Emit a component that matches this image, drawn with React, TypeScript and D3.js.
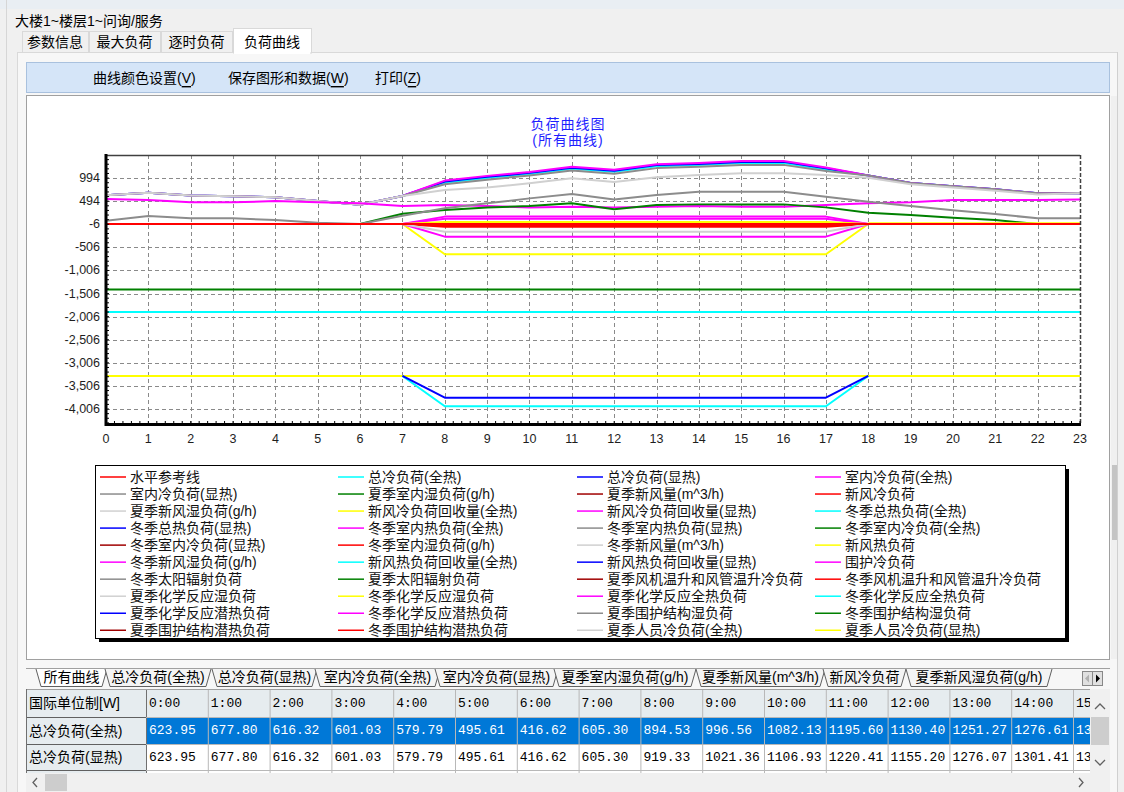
import React from 'react';
import * as d3 from 'd3';

const _ = null;

// hours of the day (x axis)
const hours = [0, 1, 2, 3, 4, 5, 6, 7, 8, 9, 10, 11, 12, 13, 14, 15, 16, 17, 18, 19, 20, 21, 22, 23];
const yTickValues = [994, 494, -6, -506, -1006, -1506, -2006, -2506, -3006, -3506, -4006];

const topTabs = ['参数信息', '最大负荷', '逐时负荷', '负荷曲线'];
const toolbarItems = [
  { label: '曲线颜色设置', key: 'V' },
  { label: '保存图形和数据', key: 'W' },
  { label: '打印', key: 'Z' },
];
const bottomTabs = ['所有曲线', '总冷负荷(全热)', '总冷负荷(显热)', '室内冷负荷(全热)', '室内冷负荷(显热)',
  '夏季室内湿负荷(g/h)', '夏季新风量(m^3/h)', '新风冷负荷', '夏季新风湿负荷(g/h)'];

const legendNames = [
  '水平参考线', '总冷负荷(全热)', '总冷负荷(显热)', '室内冷负荷(全热)',
  '室内冷负荷(显热)', '夏季室内湿负荷(g/h)', '夏季新风量(m^3/h)', '新风冷负荷',
  '夏季新风湿负荷(g/h)', '新风冷负荷回收量(全热)', '新风冷负荷回收量(显热)', '冬季总热负荷(全热)',
  '冬季总热负荷(显热)', '冬季室内热负荷(全热)', '冬季室内热负荷(显热)', '冬季室内冷负荷(全热)',
  '冬季室内冷负荷(显热)', '冬季室内湿负荷(g/h)', '冬季新风量(m^3/h)', '新风热负荷',
  '冬季新风湿负荷(g/h)', '新风热负荷回收量(全热)', '新风热负荷回收量(显热)', '围护冷负荷',
  '冬季太阳辐射负荷', '夏季太阳辐射负荷', '夏季风机温升和风管温升冷负荷', '冬季风机温升和风管温升冷负荷',
  '夏季化学反应湿负荷', '冬季化学反应湿负荷', '夏季化学反应全热负荷', '冬季化学反应全热负荷',
  '夏季化学反应潜热负荷', '冬季化学反应潜热负荷', '夏季围护结构湿负荷', '冬季围护结构湿负荷',
  '夏季围护结构潜热负荷', '冬季围护结构潜热负荷', '夏季人员冷负荷(全热)', '夏季人员冷负荷(显热)',
];

const RED = '#ff0000', CYAN = '#00ffff', BLUE = '#0000ff', MAG = '#ff00ff', GRAY = '#8c8c8c',
  GREEN = '#008000', DRED = '#a00000', LGRAY = '#d0d0d0', YEL = '#ffff00';
const legendColors = [
  RED, CYAN, BLUE, MAG, GRAY, GREEN, DRED, RED, LGRAY, YEL,
  MAG, CYAN, BLUE, MAG, GRAY, GREEN, DRED, RED, LGRAY, YEL,
  MAG, CYAN, BLUE, MAG, GRAY, GREEN, DRED, RED, LGRAY, YEL,
  MAG, CYAN, BLUE, MAG, GRAY, GREEN, DRED, RED, LGRAY, YEL,
];

// series values (W); null = not drawn
const shuiPingCanKao = [0, 0, 0, 0, 0, 0, 0, 0, 0, 0, 0, 0, 0, 0, 0, 0, 0, 0, 0, 0, 0, 0, 0, 0];
const zongLengQuan = [623.95, 677.80, 616.32, 601.03, 579.79, 495.61, 416.62, 605.30, 894.53, 996.56, 1082.13, 1195.60, 1130.40, 1251.27, 1276.61, 1320, 1320, 1180, 1050, 890, 820, 750, 665, 665];
const zongLengXian = [623.95, 677.80, 616.32, 601.03, 579.79, 495.61, 416.62, 605.30, 919.33, 1021.36, 1106.93, 1220.41, 1155.20, 1276.07, 1301.41, 1345, 1345, 1205, 1050, 890, 820, 750, 665, 665];
const shiNeiLengQuan = [623.95, 677.80, 616.32, 601.03, 579.79, 495.61, 416.62, 605.30, 940, 1042, 1127, 1240, 1175, 1296, 1321, 1365, 1365, 1225, 1050, 890, 820, 750, 665, 665];
const shiNeiLengXian = [623.95, 677.80, 616.32, 601.03, 579.79, 495.61, 416.62, 605.30, 860, 960, 1050, 1160, 1090, 1210, 1240, 1280, 1280, 1150, 1050, 890, 820, 750, 665, 665];
const xinFengLeng = [_, _, _, _, _, _, _, 0, -25, -25, -25, -25, -25, -25, -25, -25, -25, -25, 0, _, _, _, _, _];
const xiaXinFengShi = [623.95, 677.80, 616.32, 601.03, 579.79, 495.61, 416.62, 605.30, 735, 790, 880, 990, 910, 1010, 1060, 1100, 1100, 1060, 1000, 860, 790, 720, 640, 665];
const lengHuiShouQuan = [_, _, _, _, _, _, _, 0, -654, -654, -654, -654, -654, -654, -654, -654, -654, -654, 0, _, _, _, _, _];
const lengHuiShouXian = [_, _, _, _, _, _, _, 0, 160, 160, 160, 160, 160, 160, 160, 160, 160, 160, 0, _, _, _, _, _];
const dongZongReQuan = [-1905, -1905, -1905, -1905, -1905, -1905, -1905, -1905, -1905, -1905, -1905, -1905, -1905, -1905, -1905, -1905, -1905, -1905, -1905, -1905, -1905, -1905, -1905, -1905];
const dongShiNeiReQuan = [_, _, _, _, _, _, _, 0, -274, -274, -274, -274, -274, -274, -274, -274, -274, -274, 0, _, _, _, _, _];
const dongShiNeiLengQuan = [-1420, -1420, -1420, -1420, -1420, -1420, -1420, -1420, -1420, -1420, -1420, -1420, -1420, -1420, -1420, -1420, -1420, -1420, -1420, -1420, -1420, -1420, -1420, -1420];
const dongShiNeiShi = [_, _, _, _, _, _, _, 0, -60, -60, -60, -60, -60, -60, -60, -60, -60, -60, 0, _, _, _, _, _];
const dongXinFengLiang = [_, _, _, _, _, _, _, 0, -166, -166, -166, -166, -166, -166, -166, -166, -166, -166, 0, _, _, _, _, _];
const xinFengRe = [-3290, -3290, -3290, -3290, -3290, -3290, -3290, -3290, -3290, -3290, -3290, -3290, -3290, -3290, -3290, -3290, -3290, -3290, -3290, -3290, -3290, -3290, -3290, -3290];
const reHuiShouQuan = [_, _, _, _, _, _, _, -3290, -3945, -3945, -3945, -3945, -3945, -3945, -3945, -3945, -3945, -3945, -3290, _, _, _, _, _];
const reHuiShouXian = [_, _, _, _, _, _, _, -3290, -3760, -3760, -3760, -3760, -3760, -3760, -3760, -3760, -3760, -3760, -3290, _, _, _, _, _];
const weiHuLeng = [540, 518, 469, 469, 497, 469, 447, 389, 410, 389, 360, 374, 360, 374, 389, 374, 374, 410, 447, 469, 518, 518, 518, 533];
const xiaTaiYang = [0, 0, 0, 0, 0, 0, 0, 220, 302, 360, 389, 447, 318, 410, 425, 425, 425, 360, 245, 195, 136, 86, 0, 0];
const dongHuaXueShi = [_, _, _, _, _, _, _, _, _, _, _, _, _, _, _, _, _, _, 15, 15, 15, 15, 15, 15];
const xiaHuaXueQuan = [_, _, _, _, _, _, _, 0, 115, 115, 115, 115, 115, 115, 115, 115, 115, 115, 0, _, _, _, _, _];
const xiaWeiHuShi = [71, 173, 123, 123, 86, 28, 0, 180, 340, 447, 555, 648, 533, 626, 698, 698, 698, 590, 480, 390, 300, 216, 123, 123];
const xiaRenYuanXian = [_, _, _, _, _, _, _, 0, 45, 45, 45, 45, 45, 45, 45, 45, 45, 45, 0, _, _, _, _, _];

// one entry per legend name (null = only in legend)
const seriesValues: ((number | null)[] | null)[] = [
  shuiPingCanKao, zongLengQuan, zongLengXian, shiNeiLengQuan,
  shiNeiLengXian, null, null, xinFengLeng,
  xiaXinFengShi, lengHuiShouQuan, lengHuiShouXian, dongZongReQuan,
  null, dongShiNeiReQuan, null, dongShiNeiLengQuan,
  null, dongShiNeiShi, dongXinFengLiang, xinFengRe,
  null, reHuiShouQuan, reHuiShouXian, weiHuLeng,
  null, xiaTaiYang, null, null,
  null, dongHuaXueShi, xiaHuaXueQuan, null,
  null, null, xiaWeiHuShi, null,
  null, null, null, xiaRenYuanXian,
];

const tableRows = [
  { name: '总冷负荷(全热)', values: zongLengQuan },
  { name: '总冷负荷(显热)', values: zongLengXian },
];

// Latin font first keeps the line box compact, CJK glyphs fall back to Noto
const CJK = "'Liberation Sans', 'Noto Sans CJK SC', sans-serif";
const LATIN = "'Liberation Sans', Arial, sans-serif";
const MONO = "'Liberation Mono', 'DejaVu Sans Mono', monospace";

const plot = { left: 106, right: 1080, top: 155, bottom: 424 };
const x = d3.scaleLinear().domain([0, 23]).range([plot.left, plot.right]);
const y = d3.scaleLinear().domain([-4330, 1494]).range([plot.bottom, plot.top]);
const fmtY = d3.formatLocale({ decimal: '.', thousands: ',', grouping: [3], currency: ['', ''], minus: '-' }).format(',');
const fmt2 = d3.format('.2f');

const line = d3.line<number | null>()
  .defined((d) => d != null)
  .x((d, i) => x(hours[i]))
  .y((d) => y(d as number));

// layout of the legend / tabs
const legendCols = [100, 338, 577, 815];
const legendTop = 477;
const legendRowH = 17.03;
const topTabX = [[22, 88], [89, 160], [161, 232], [233, 311]];
const bottomTabX = [[42, 101], [111, 205], [218, 311], [321, 434], [441, 552], [560, 690], [702, 819], [829, 900], [912, 1046]];
const tableLeft = 26, firstColW = 120, colW = 61.8;
const rowY = [689, 717, 744, 770];

export default function App() {
  const drawOrder = d3.range(1, seriesValues.length).concat([0]);
  const minorX = d3.range(0, 116).map((i) => i / 5);
  const minorY = d3.range(-4306, 1494, 100);

  return (
    <svg width={1124} height={792} style={{ position: 'absolute', left: 0, top: 0, background: '#f0f0f0' }}>
      <defs>
        <clipPath id="plotClip">
          <rect x={plot.left} y={plot.top} width={plot.right - plot.left} height={plot.bottom - plot.top} />
        </clipPath>
        <clipPath id="tableClip">
          <rect x={tableLeft} y={686} width={1090 - tableLeft} height={88} />
        </clipPath>
      </defs>
      <rect x={0} y={0} width={1124} height={792} fill="#f0f0f0" />
      <rect x={0} y={0} width={1124} height={9} fill="#e9eef3" />
      <line x1={6.5} y1={0} x2={6.5} y2={792} stroke="#d6d6d6" />

      {/* window title + top tabs */}
      <text x={15} y={21} dominantBaseline="central" fontFamily={CJK} fontSize={14} fill="#000">大楼1~楼层1~问询/服务</text>
      <rect x={17.5} y={52.5} width={1100} height={750} fill="#f7f7f7" stroke="#d9d9d9" />
      {topTabs.map((t, i) => {
        const sel = i === 3;
        const [a, b] = topTabX[i];
        return (
          <g key={t}>
            <rect x={a + 0.5} y={sel ? 28.5 : 31.5} width={b - a} height={sel ? 24.5 : 21}
              fill={sel ? '#ffffff' : '#f0f0f0'} stroke="#d9d9d9" />
            <text x={(a + b) / 2} y={42} textAnchor="middle" dominantBaseline="central"
              fontFamily={CJK} fontSize={14} fill="#000">{t}</text>
          </g>
        );
      })}
      <rect x={234} y={51} width={76} height={3} fill="#ffffff" />

      {/* toolbar */}
      <rect x={26.5} y={62.5} width={1083} height={30} fill="#d5e5f8" stroke="#a9c1de" />
      {toolbarItems.map((t, i) => (
        <text key={t.key} x={[93, 228, 375][i]} y={78} dominantBaseline="central" fontFamily={CJK} fontSize={14} fill="#000">
          {t.label}(<tspan textDecoration="underline">{t.key}</tspan>)
        </text>
      ))}

      {/* chart canvas */}
      <rect x={26.5} y={95.5} width={1083} height={564} fill="#ffffff" stroke="#a0a0a0" />
      <rect x={1111} y={96} width={7} height={563} fill="#f0f0f0" />
      <rect x={1112} y={465} width={6} height={75} fill="#c4c4c4" />

      <text x={568} y={124} textAnchor="middle" dominantBaseline="central" fontFamily={CJK} fontSize={14}
        letterSpacing={1} fill="#1f1fff">负荷曲线图</text>
      <text x={568} y={140} textAnchor="middle" dominantBaseline="central" fontFamily={CJK} fontSize={14}
        letterSpacing={1} fill="#1f1fff">(所有曲线)</text>

      {/* grid */}
      <g stroke="#8a8a8a" strokeWidth={1} strokeDasharray="4,3">
        {hours.slice(1, 23).map((h) => (
          <line key={'gx' + h} x1={Math.round(x(h)) + 0.5} x2={Math.round(x(h)) + 0.5} y1={plot.top} y2={plot.bottom} />
        ))}
        {yTickValues.map((v) => (
          <line key={'gy' + v} x1={plot.left} x2={plot.right} y1={Math.round(y(v)) + 0.5} y2={Math.round(y(v)) + 0.5} />
        ))}
      </g>

      {/* series */}
      <g clipPath="url(#plotClip)" fill="none" strokeWidth={2} strokeLinejoin="round">
        {drawOrder.map((i) => {
          const vals = seriesValues[i];
          if (!vals) return null;
          return <path key={'s' + i} d={line(vals) || ''} stroke={legendColors[i]} />;
        })}
      </g>

      {/* frame */}
      <line x1={plot.left} x2={plot.right} y1={plot.top + 0.5} y2={plot.top + 0.5} stroke="#404040" strokeWidth={1.5} />
      <line x1={plot.right + 0.5} x2={plot.right + 0.5} y1={plot.top} y2={plot.bottom} stroke="#404040" strokeWidth={1.5} strokeDasharray="4,2" />
      <g stroke="#000">
        {minorX.map((v) => (
          <line key={'mx' + v} x1={x(v)} x2={x(v)} y1={plot.bottom - 3} y2={plot.bottom} />
        ))}
        {minorY.map((v) => (
          <line key={'my' + v} x1={plot.left} x2={plot.left + 3} y1={y(v)} y2={y(v)} />
        ))}
      </g>
      <line x1={plot.left} x2={plot.left} y1={plot.top - 1} y2={plot.bottom + 2} stroke="#000" strokeWidth={3} />
      <line x1={plot.left - 1} x2={plot.right + 1} y1={plot.bottom + 0.5} y2={plot.bottom + 0.5} stroke="#000" strokeWidth={3} />

      {/* axis labels */}
      <g fontFamily={LATIN} fontSize={12.5} fill="#1e1e1e">
        {yTickValues.map((v) => (
          <text key={'ty' + v} x={plot.left - 6} y={y(v)} textAnchor="end" dominantBaseline="central">{fmtY(v)}</text>
        ))}
        {hours.map((h) => (
          <text key={'tx' + h} x={x(h)} y={439} textAnchor="middle" dominantBaseline="central">{h}</text>
        ))}
      </g>

      {/* legend */}
      <rect x={99} y={469} width={970} height={173} fill="#000" />
      <rect x={95.5} y={465.5} width={970} height={173} fill="#ffffff" stroke="#000" />
      {legendNames.map((name, i) => {
        const cx = legendCols[i % 4];
        const cy = legendTop + Math.floor(i / 4) * legendRowH;
        return (
          <g key={'lg' + i}>
            <line x1={cx} x2={cx + 26} y1={cy} y2={cy} stroke={legendColors[i]} strokeWidth={1.5} />
            <text x={cx + 30} y={cy} dominantBaseline="central" fontFamily={CJK} fontSize={14} fill="#111">{name}</text>
          </g>
        );
      })}

      {/* bottom tabs */}
      <line x1={26} x2={1110} y1={668.5} y2={668.5} stroke="#a0a0a0" />
      {bottomTabs.map((t, i) => {
        const [a, b] = bottomTabX[i];
        const sel = i === 0;
        return (
          <g key={'bt' + i}>
            <path d={`M${a - 6},669 L${a - 1},686.5 L${b + 1},686.5 L${b + 6},669`}
              fill={sel ? '#ffffff' : '#f4f4f4'} stroke="#606060" strokeWidth={1} />
            <text x={(a + b) / 2} y={677} textAnchor="middle" dominantBaseline="central"
              fontFamily={CJK} fontSize={14} fill="#000">{t}</text>
          </g>
        );
      })}
      <rect x={1082.5} y={671.5} width={10} height={14} fill="#e0e0e0" stroke="#888" />
      <rect x={1092.5} y={671.5} width={10} height={14} fill="#e0e0e0" stroke="#888" />
      <path d="M1089,674.5 L1085,678.5 L1089,682.5 Z" fill="#b0b0b0" />
      <path d="M1096,674.5 L1100,678.5 L1096,682.5 Z" fill="#000" />

      {/* table */}
      <g clipPath="url(#tableClip)">
        <rect x={tableLeft} y={rowY[0]} width={1064} height={85} fill="#ffffff" />
        <rect x={tableLeft} y={rowY[0]} width={1064} height={rowY[1] - rowY[0]} fill="#e6ecef" />
        <rect x={tableLeft} y={rowY[1]} width={firstColW} height={rowY[3] - rowY[1] + 4} fill="#e6ecef" />
        <rect x={tableLeft + firstColW} y={rowY[1]} width={1064} height={rowY[2] - rowY[1]} fill="#0078d7" />
        <text x={tableLeft + 3} y={(rowY[0] + rowY[1]) / 2} dominantBaseline="central" fontFamily={CJK} fontSize={14} fill="#000">国际单位制[W]</text>
        {hours.slice(0, 16).map((h, c) => {
          const cx = tableLeft + firstColW + c * colW;
          return (
            <g key={'col' + h}>
              <text x={cx + 3} y={(rowY[0] + rowY[1]) / 2} dominantBaseline="central" fontFamily={MONO} fontSize={13} fill="#000">{`${h}:00`}</text>
              {tableRows.map((r, ri) => (
                <text key={'cell' + ri} x={cx + 3} y={(rowY[ri + 1] + rowY[ri + 2]) / 2} dominantBaseline="central"
                  fontFamily={MONO} fontSize={13} fill={ri === 0 ? '#ffffff' : '#000'}>
                  {fmt2(r.values[h] as number)}
                </text>
              ))}
              <line x1={cx + 0.5} x2={cx + 0.5} y1={rowY[0]} y2={rowY[3] + 4} stroke={c === 0 ? '#707070' : '#b8b8b8'} />
            </g>
          );
        })}
        {tableRows.map((r, ri) => (
          <text key={'rn' + ri} x={tableLeft + 3} y={(rowY[ri + 1] + rowY[ri + 2]) / 2} dominantBaseline="central"
            fontFamily={CJK} fontSize={14} fill="#000">{r.name}</text>
        ))}
        {rowY.map((ry, i) => (
          <line key={'rl' + i} x1={tableLeft} x2={1090} y1={ry + 0.5} y2={ry + 0.5} stroke={i === 0 ? '#a0a0a0' : '#b8b8b8'} />
        ))}
        <line x1={tableLeft} x2={tableLeft + firstColW} y1={rowY[1] + 0.5} y2={rowY[1] + 0.5} stroke="#606060" />
        <line x1={tableLeft} x2={tableLeft + firstColW} y1={rowY[2] + 0.5} y2={rowY[2] + 0.5} stroke="#606060" />
        <line x1={tableLeft} x2={tableLeft + firstColW} y1={rowY[3] + 0.5} y2={rowY[3] + 0.5} stroke="#606060" />
        <line x1={tableLeft + 0.5} x2={tableLeft + 0.5} y1={rowY[0]} y2={rowY[3] + 4} stroke="#707070" />
      </g>
      {/* table scrollbars */}
      <rect x={1090} y={689} width={20} height={84} fill="#f0f0f0" />
      <path d="M1095,709 L1100,704 L1105,709" fill="none" stroke="#606060" strokeWidth={1.3} />
      <rect x={1091} y={717} width={18} height={28} fill="#cdcdcd" />
      <path d="M1095,760 L1100,765 L1105,760" fill="none" stroke="#606060" strokeWidth={1.3} />
      <rect x={26} y={773} width={1084} height={19} fill="#f0f0f0" />
      <path d="M37,778 L33,782.5 L37,787" fill="none" stroke="#606060" strokeWidth={1.3} />
      <rect x={45} y={774} width={22} height={17} fill="#cdcdcd" />
      <path d="M1079,778 L1083,782.5 L1079,787" fill="none" stroke="#606060" strokeWidth={1.3} />
      <line x1={1117.5} x2={1117.5} y1={52} y2={792} stroke="#d0d0d0" />
    </svg>
  );
}
